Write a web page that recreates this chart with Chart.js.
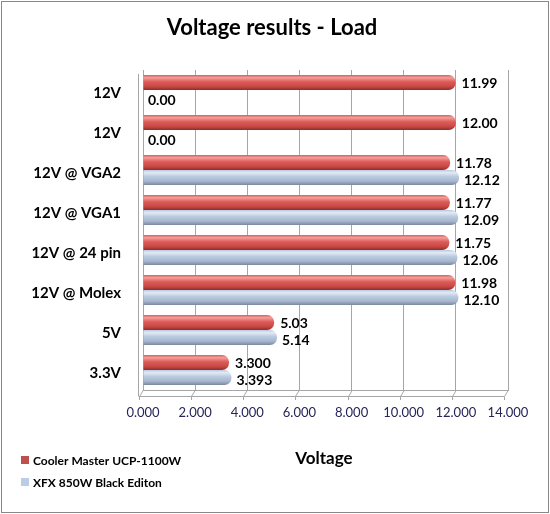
<!DOCTYPE html>
<html>
<head>
<meta charset="utf-8">
<script src="https://cdn.jsdelivr.net/npm/chart.js@4.4.1/dist/chart.umd.min.js"></script>
<style>
  html, body { margin: 0; padding: 0; background: #fff; }
  #wrap { width: 550px; height: 514px; }
</style>
</head>
<body>
<div id="wrap"><canvas id="graph-div" width="550" height="514"></canvas></div>
<script>
const categories = ['12V', '12V', '12V @ VGA2', '12V @ VGA1', '12V @ 24 pin', '12V @ Molex', '5V', '3.3V'];
const coolerMaster = [11.99, 12.00, 11.78, 11.77, 11.75, 11.98, 5.03, 3.300];
const xfx = [0.00, 0.00, 12.12, 12.09, 12.06, 12.10, 5.14, 3.393];
const labelDecimals = [2, 2, 2, 2, 2, 2, 2, 3];
const xTicks = [0, 2, 4, 6, 8, 10, 12, 14];
const seriesNames = ['Cooler Master UCP-1100W', 'XFX 850W Black Editon'];

const FONT = 'Lato, "DejaVu Sans", sans-serif';

// colour stops for the cylinder look: light top, main body, dark bottom
const redStops = ['#f0a09c', '#de5c58', '#c94a46', '#8f2e2b'];
const blueStops = ['#e2eaf5', '#b9c9df', '#a6b6ce', '#7a879d'];
const legendColors = ['#c0504d', '#b9cde5'];

function cylinder(stops, datasetIndex) {
  return function (context) {
    const chart = context.chart;
    const yScale = chart.scales.y;
    if (!chart.chartArea || !yScale || context.dataIndex === undefined) return stops[1];
    const center = yScale.getPixelForValue(context.dataIndex);
    const cat = (yScale.bottom - yScale.top) / categories.length;
    const size = cat * 0.75 / 2;
    const top = datasetIndex === 0 ? center - size : center;
    const g = chart.ctx.createLinearGradient(0, top, 0, top + size);
    g.addColorStop(0, stops[1]);
    g.addColorStop(0.18, stops[0]);
    g.addColorStop(0.45, stops[1]);
    g.addColorStop(0.75, stops[2]);
    g.addColorStop(1, stops[3]);
    return g;
  };
}

// title, axis name, legend, value labels, 3d floor and outer frame
const decorations = {
  id: 'decorations',
  afterDraw(chart) {
    const ctx = chart.ctx;
    const area = chart.chartArea;
    const xScale = chart.scales.x;
    ctx.save();

    // floor of the 3d box
    ctx.strokeStyle = '#a6a6a6';
    ctx.lineWidth = 1;
    ctx.beginPath();
    ctx.moveTo(area.left - 4, area.bottom + 6.5);
    ctx.lineTo(area.right - 4, area.bottom + 6.5);
    xTicks.forEach(v => {
      const x = Math.round(xScale.getPixelForValue(v)) + 0.5;
      ctx.moveTo(x, area.bottom);
      ctx.lineTo(x - 4, area.bottom + 6.5);
      ctx.lineTo(x - 4, area.bottom + 10);
    });
    ctx.moveTo(area.left - 4.5, area.top + 4);
    ctx.lineTo(area.left - 4.5, area.bottom + 6.5);
    ctx.stroke();

    // value labels at bar ends
    ctx.fillStyle = '#000';
    ctx.font = 'bold 14px ' + FONT;
    ctx.textBaseline = 'middle';
    ctx.textAlign = 'left';
    chart.data.datasets.forEach((ds, di) => {
      const meta = chart.getDatasetMeta(di);
      meta.data.forEach((el, i) => {
        const txt = ds.data[i].toFixed(labelDecimals[i]);
        const dx = di === 0 ? 6 : 5;
        const dy = di === 0 ? 1 : 3;
        ctx.fillText(txt, el.x + dx, el.y + dy);
      });
    });

    // title
    ctx.textAlign = 'center';
    ctx.font = 'bold 22px ' + FONT;
    ctx.fillText('Voltage results - Load', 272, 28);

    // axis name
    ctx.font = 'bold 17px ' + FONT;
    ctx.fillText('Voltage', 324, 459);

    // legend
    ctx.textAlign = 'left';
    ctx.font = 'bold 12px ' + FONT;
    chart.data.datasets.forEach((ds, di) => {
      const y = 460 + di * 22;
      ctx.fillStyle = legendColors[di];
      ctx.fillRect(21, y - 4, 8, 8);
      ctx.fillStyle = '#000';
      ctx.fillText(ds.label, 33, y + 1);
    });

    // outer frame
    ctx.strokeStyle = '#888';
    ctx.strokeRect(1.5, 1.5, chart.width - 3, chart.height - 3);
    ctx.restore();
  }
};

const ctx = document.getElementById('graph-div').getContext('2d');
const myChart = new Chart(ctx, {
  type: 'bar',
  data: {
    labels: categories,
    datasets: [
      {
        label: seriesNames[0],
        data: coolerMaster,
        backgroundColor: cylinder(redStops, 0),
        borderRadius: 7,
        borderSkipped: 'start',
        categoryPercentage: 0.75,
        barPercentage: 1
      },
      {
        label: seriesNames[1],
        data: xfx,
        backgroundColor: cylinder(blueStops, 1),
        borderRadius: 7,
        borderSkipped: 'start',
        categoryPercentage: 0.75,
        barPercentage: 1
      }
    ]
  },
  options: {
    indexAxis: 'y',
    responsive: false,
    animation: false,
    devicePixelRatio: 1,
    layout: { padding: { left: 0, right: 42, top: 70, bottom: 0 } },
    plugins: {
      legend: { display: false },
      title: { display: false },
      tooltip: { enabled: false }
    },
    scales: {
      x: {
        min: 0,
        max: 14,
        afterFit: (scale) => { scale.height = 124; },
        afterBuildTicks: (scale) => { scale.ticks = xTicks.map(v => ({ value: v })); },
        grid: { color: '#a6a6a6', drawTicks: false },
        border: { display: true, color: '#a6a6a6' },
        ticks: {
          padding: 15,
          color: '#25255a',
          font: { family: FONT, size: 13 },
          callback: (v) => Number(v).toFixed(3)
        }
      },
      y: {
        afterFit: (scale) => { scale.width = 143; },
        grid: { display: false, drawTicks: false },
        border: { display: true, color: '#a6a6a6' },
        ticks: {
          padding: 22,
          labelOffset: 3,
          color: '#000',
          font: { family: FONT, size: 15, weight: 'bold' }
        }
      }
    }
  },
  plugins: [decorations]
});
</script>
</body>
</html>
